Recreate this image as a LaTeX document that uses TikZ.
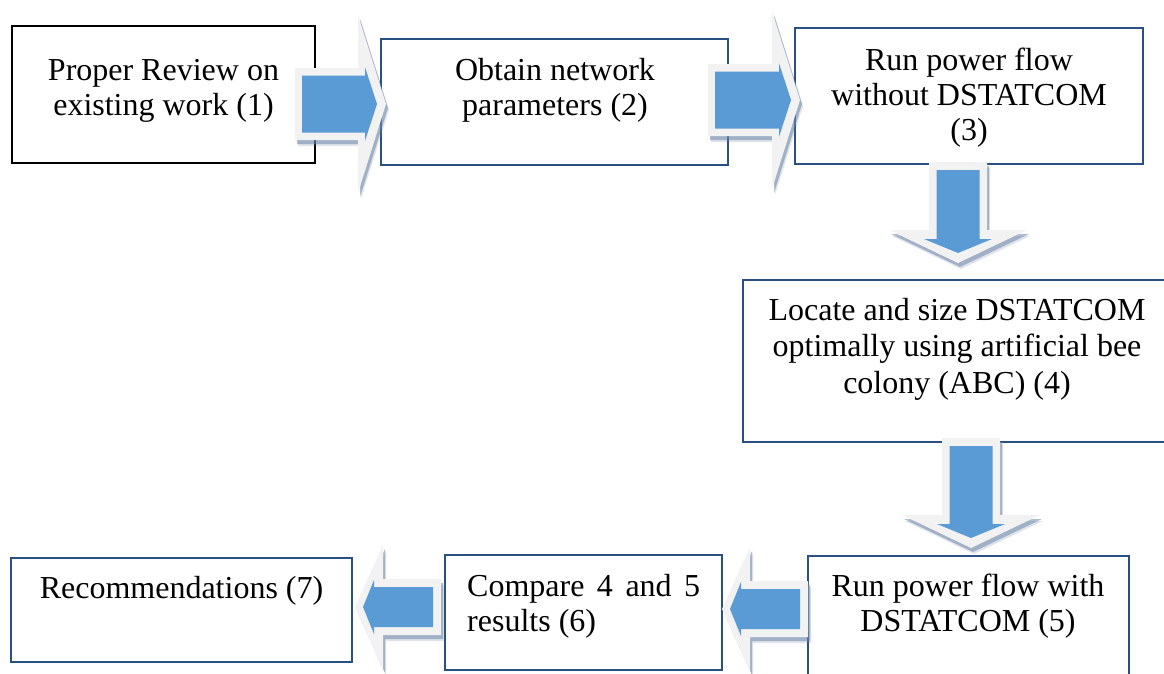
\documentclass[tikz,border=0pt]{standalone}
\usepackage{fontspec}
\setmainfont{Liberation Serif}
\definecolor{agray}{RGB}{242,242,242}
\definecolor{ablue}{RGB}{91,155,213}
\definecolor{ashadow}{RGB}{110,135,168}
\definecolor{bblue}{RGB}{40,80,128}
\tikzset{
  box/.style={draw=bblue, line width=2.4pt, fill=none, inner sep=0pt},
  blackbox/.style={draw=black, line width=2.2pt, fill=none, inner sep=0pt},
  txt/.style={anchor=base, inner sep=0pt, font=\fontsize{32pt}{35pt}\selectfont},
  arrgray/.style={fill=agray},
  arrblue/.style={fill=ablue},
  arrshadow/.style={fill=ashadow, opacity=0.55},
  arrshadowb/.style={fill=ashadow, opacity=0.22},
  pics/rarrow/.style={code={
    \fill[arrshadowb,shift={(3,6)}] (-#1,-36) -- (-28,-36) -- (-28,-89) -- (0,0) -- (-28,89) -- (-28,36) -- (-#1,36) -- cycle;
    \fill[arrshadow,shift={(2,4)}] (-#1,-36) -- (-28,-36) -- (-28,-89) -- (0,0) -- (-28,89) -- (-28,36) -- (-#1,36) -- cycle;
    \fill[arrgray] (-#1,-36) -- (-28,-36) -- (-28,-89) -- (0,0) -- (-28,89) -- (-28,36) -- (-#1,36) -- cycle;
    \fill[arrblue] (-#1+7,-28.5) -- (-21,-28.5) -- (-21,-37) -- (-9,0) -- (-21,37) -- (-21,28.5) -- (-#1+7,28.5) -- cycle;
  }},
  pics/darrow/.style={code={
    \fill[arrshadowb,shift={(3,6)}] (-29,-#1) -- (29,-#1) -- (29,-33) -- (69,-33) -- (0,0) -- (-69,-33) -- (-29,-33) -- cycle;
    \fill[arrshadow,shift={(2,4)}] (-29,-#1) -- (29,-#1) -- (29,-33) -- (69,-33) -- (0,0) -- (-69,-33) -- (-29,-33) -- cycle;
    \fill[arrgray] (-29,-#1) -- (29,-#1) -- (29,-33) -- (69,-33) -- (0,0) -- (-69,-33) -- (-29,-33) -- cycle;
    \fill[arrblue] (-21.5,-#1+8) -- (21.5,-#1+8) -- (21.5,-24) -- (34,-24) -- (0,-10) -- (-34,-24) -- (-21.5,-24) -- cycle;
  }},
  pics/larrow/.style={code={
    \fill[arrshadowb,shift={(3,6)}] (#1,-28) -- (28,-28) -- (28,-62) -- (0,0) -- (28,62) -- (28,28) -- (#1,28) -- cycle;
    \fill[arrshadow,shift={(2,4)}] (#1,-28) -- (28,-28) -- (28,-62) -- (0,0) -- (28,62) -- (28,28) -- (#1,28) -- cycle;
    \fill[arrgray] (#1,-28) -- (28,-28) -- (28,-62) -- (0,0) -- (28,62) -- (28,28) -- (#1,28) -- cycle;
    \fill[arrblue] (#1-8,-20) -- (19,-20) -- (19,-27) -- (8,0) -- (19,27) -- (19,20) -- (#1-8,20) -- cycle;
  }},
}
\begin{document}
\begin{tikzpicture}[x=1pt,y=-1pt]
\clip (0,0) rectangle (1164,673);
\fill[white] (0,0) rectangle (1164,673);

% boxes
\node[blackbox, minimum width=303pt, minimum height=137pt] (b1) at (163.5,94.5) {};
\node[box, minimum width=347pt, minimum height=126pt] (b2) at (554.5,102) {};
\node[box, minimum width=348pt, minimum height=136pt] (b3) at (969,96) {};
\node[box, minimum width=428pt, minimum height=162pt] (b4) at (957,361) {};
\node[box, minimum width=321pt, minimum height=134pt] (b5) at (968.5,623) {};
\node[box, minimum width=277pt, minimum height=115pt] (b6) at (583.5,612.5) {};
\node[box, minimum width=341pt, minimum height=104pt] (b7) at (181.5,610) {};

% texts
\node[txt] (t1) at (163.5,80) {\parbox[t]{290pt}{\centering Proper Review on\\existing work (1)}};
\node[txt] (t2) at (555,80) {\parbox[t]{330pt}{\centering Obtain network\\parameters (2)}};
\node[txt] (t3) at (969,70) {\parbox[t]{340pt}{\centering Run power flow\\without DSTATCOM\\(3)}};
\node[txt, font=\fontsize{32pt}{36.5pt}\selectfont] (t4) at (957,320) {\parbox[t]{420pt}{\centering Locate and size DSTATCOM\\optimally using artificial bee\\colony (ABC) (4)}};
\node[txt] (t5) at (968,596) {\parbox[t]{320pt}{\centering Run power flow with\\DSTATCOM (5)}};
\node[txt, anchor=base west] (t6) at (467,596) {\parbox[t]{240pt}{\raggedright\makebox[233pt][s]{Compare 4 and 5}\\results (6)}};
\node[txt] (t7) at (181.5,598) {\parbox[t]{330pt}{\centering Recommendations (7)}};

% block arrows
\coordinate (a12) at (386,104);
\coordinate (a23) at (800,100);
\coordinate (a34) at (958,263);
\coordinate (a45) at (971,548);
\coordinate (a56) at (722,609);
\coordinate (a67) at (355,607);
\pic at (a12) {rarrow=91};
\pic at (a23) {rarrow=92};
\pic at (a34) {darrow=101};
\pic at (a45) {darrow=110};
\pic at (a56) {larrow=86};
\pic at (a67) {larrow=86};
\end{tikzpicture}
\end{document}
